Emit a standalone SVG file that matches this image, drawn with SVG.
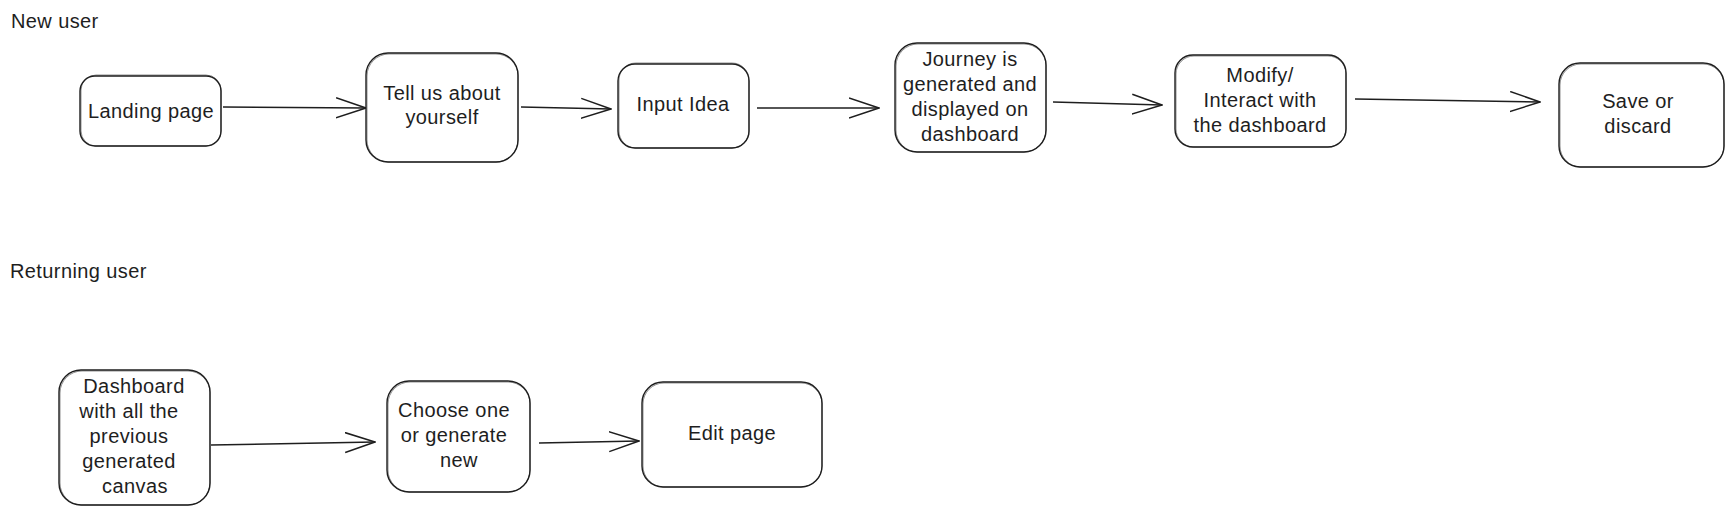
<svg xmlns="http://www.w3.org/2000/svg" width="1733" height="515" viewBox="0 0 1733 515">
<defs>
<style>
.box{fill:#ffffff;stroke:#1e1e1e;stroke-width:1.4}
.box2{fill:none;stroke:#1e1e1e;stroke-width:0.7;opacity:0.7}
.t{font-family:"Liberation Sans",Arial,sans-serif;font-size:20px;letter-spacing:0.4px;fill:#1e1e1e;text-anchor:middle}
.lbl{font-family:"Liberation Sans",Arial,sans-serif;font-size:20px;letter-spacing:0.4px;fill:#1e1e1e}
.c{fill:none;stroke:#1e1e1e;stroke-width:1.5;marker-end:url(#ah)}
</style>
<marker id="ah" viewBox="0 0 31 22" refX="30" refY="11" markerWidth="31" markerHeight="22" markerUnits="userSpaceOnUse" orient="auto">
<path d="M0,1 L30,11 L0,21" fill="none" stroke="#1e1e1e" stroke-width="1.5"/>
</marker>
</defs>
<rect width="1733" height="515" fill="#ffffff"/>
<text class="lbl" x="11" y="28">New user</text>
<text class="lbl" x="10" y="278">Returning user</text>
<g id="connectors">
<path class="c" d="M223,107 L366,108"/>
<path class="c" d="M521,107 L611,109"/>
<path class="c" d="M757,108 L879,108"/>
<path class="c" d="M1053,102 L1162,105"/>
<path class="c" d="M1355,99 L1540,102"/>
<path class="c" d="M211,445 L375,442"/>
<path class="c" d="M539,443 L639,441"/>
</g>
<g id="landing">
<rect class="box" x="80" y="76" width="141" height="70" rx="15"/>
<rect class="box2" x="81" y="75" width="140" height="71" rx="15"/>
<text class="t" x="151" y="118">Landing page</text>
</g>
<g id="tellus">
<rect class="box" x="366" y="53" width="152" height="109" rx="22"/>
<rect class="box2" x="367" y="54" width="151" height="108" rx="22"/>
<text class="t" x="442" y="100">Tell us about</text>
<text class="t" x="442" y="124">yourself</text>
</g>
<g id="input">
<rect class="box" x="618" y="64" width="131" height="84" rx="17"/>
<rect class="box2" x="619" y="63" width="130" height="85" rx="17"/>
<text class="t" x="683" y="111">Input Idea</text>
</g>
<g id="journey">
<rect class="box" x="895" y="43" width="151" height="109" rx="22"/>
<rect class="box2" x="896" y="44" width="150" height="108" rx="22"/>
<text class="t" x="970" y="66">Journey is</text>
<text class="t" x="970" y="91">generated and</text>
<text class="t" x="970" y="116">displayed on</text>
<text class="t" x="970" y="141">dashboard</text>
</g>
<g id="modify">
<rect class="box" x="1175" y="55" width="171" height="92" rx="18"/>
<rect class="box2" x="1176" y="56" width="170" height="91" rx="18"/>
<text class="t" x="1260" y="82">Modify/</text>
<text class="t" x="1260" y="107">Interact with</text>
<text class="t" x="1260" y="132">the dashboard</text>
</g>
<g id="save">
<rect class="box" x="1559" y="63" width="165" height="104" rx="21"/>
<rect class="box2" x="1560" y="64" width="164" height="103" rx="21"/>
<text class="t" x="1638" y="108">Save or</text>
<text class="t" x="1638" y="133">discard</text>
</g>
<g id="dashboard">
<rect class="box" x="59" y="370" width="151" height="135" rx="22"/>
<rect class="box2" x="60" y="371" width="150" height="134" rx="22"/>
<text class="t" x="134" y="393">Dashboard</text>
<text class="t" x="129" y="418">with all the</text>
<text class="t" x="129" y="443">previous</text>
<text class="t" x="129" y="468">generated</text>
<text class="t" x="135" y="493">canvas</text>
</g>
<g id="choose">
<rect class="box" x="387" y="381" width="143" height="111" rx="22"/>
<rect class="box2" x="388" y="382" width="142" height="110" rx="22"/>
<text class="t" x="454" y="417">Choose one</text>
<text class="t" x="454" y="442">or generate</text>
<text class="t" x="459" y="467">new</text>
</g>
<g id="edit">
<rect class="box" x="642" y="382" width="180" height="105" rx="21"/>
<rect class="box2" x="643" y="383" width="179" height="104" rx="21"/>
<text class="t" x="732" y="440">Edit page</text>
</g>
</svg>
